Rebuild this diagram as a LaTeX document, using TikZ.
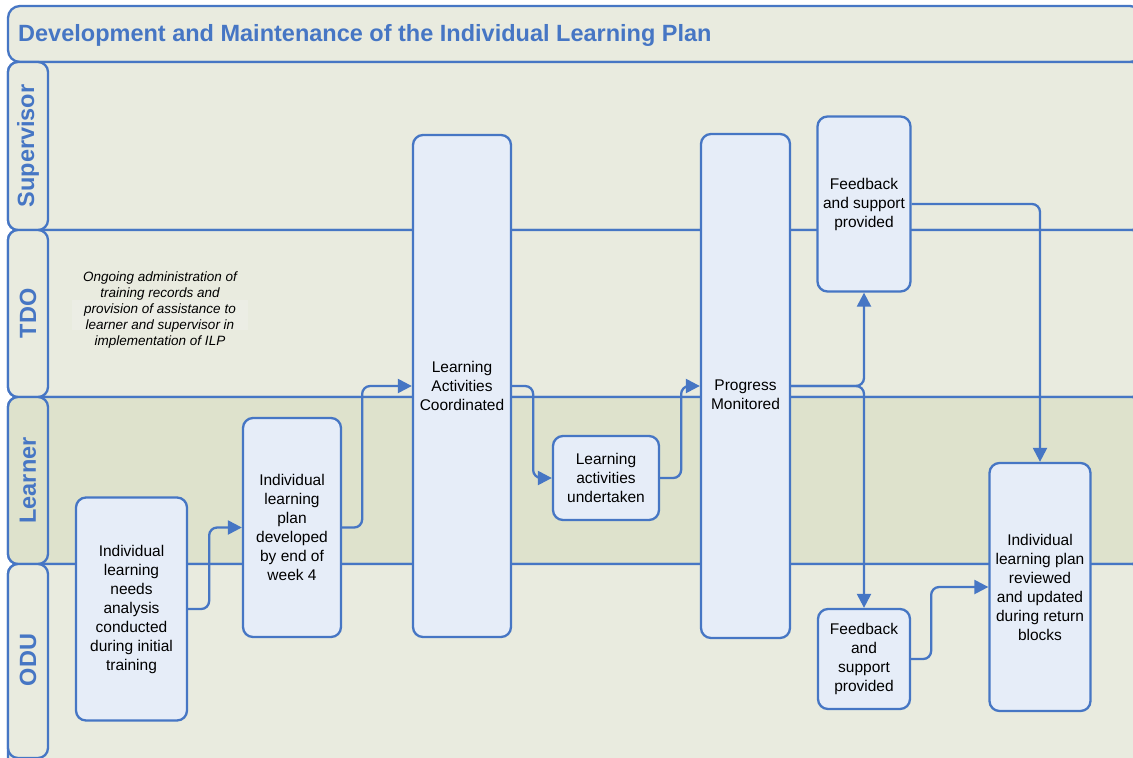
\documentclass[tikz,border=0pt]{standalone}
\usepackage{fontspec}
\setmainfont{Liberation Sans}
\usetikzlibrary{arrows.meta}
\definecolor{lineblue}{RGB}{70,118,196}
\definecolor{lanebg}{RGB}{233,235,223}
\definecolor{learnerbg}{RGB}{222,226,204}
\definecolor{boxfill}{RGB}{230,237,248}
\definecolor{notebg}{RGB}{236,237,229}
\tikzset{
  lanerect/.style={draw=lineblue, line width=2.3pt, rounded corners=10pt},
  tabrect/.style={draw=lineblue, line width=2.3pt, rounded corners=10pt},
  lanelabel/.style={rotate=90, text=lineblue, font=\bfseries\fontsize{23.5}{28}\selectfont, inner sep=0pt},
  stepbox/.style={draw=lineblue, line width=2.3pt, rounded corners=10pt, fill=boxfill,
    align=center, inner sep=0pt, font=\fontsize{15.5}{19}\selectfont},
  boxtext/.style={align=center, inner sep=0pt, font=\fontsize{15.5}{19}\selectfont},
  conn/.style={draw=lineblue, line width=2.3pt, rounded corners=8pt,
    -{Triangle[length=14pt,width=14pt]}},
}
\begin{document}
\begin{tikzpicture}[x=1pt,y=-1pt]
\useasboundingbox (0,0) rectangle (1133,758);
\clip (0,0) rectangle (1133,758);
\fill[white] (0,0) rectangle (1133,758);
% title
\draw[lanerect, rounded corners=12pt, fill=lanebg] (8,6) rectangle (1142,62);
\node[anchor=base west, text=lineblue, font=\bfseries\fontsize{23.5}{28}\selectfont, inner sep=0pt] (title) at (18,41) {Development and Maintenance of the Individual Learning Plan};
% lanes
\draw[lanerect, fill=lanebg] (8,62) rectangle (1142,230);
\draw[lanerect, fill=lanebg] (8,230) rectangle (1142,397);
\draw[lanerect, fill=learnerbg] (8,397) rectangle (1142,564);
\draw[lanerect, fill=lanebg] (8,564) rectangle (1142,770);
% tabs
\draw[tabrect, fill=lanebg] (8,62) rectangle (48,230);
\draw[tabrect, fill=lanebg] (8,230) rectangle (48,397);
\draw[tabrect, fill=learnerbg] (8,397) rectangle (48,564);
\draw[tabrect, fill=lanebg] (8,564) rectangle (48,758);
\node[lanelabel] (lsup) at (28,146) {Supervisor};
\node[lanelabel] (ltdo) at (28,313.5) {TDO};
\node[lanelabel] (llrn) at (28,480.5) {Learner};
\node[lanelabel] (lodu) at (28,660) {ODU};
% note
\fill[notebg] (72,300) rectangle (248,330);
\node[align=center, inner sep=0pt, font=\itshape\fontsize{13.5}{16}\selectfont] (note) at (160,310)
  {Ongoing administration of\\training records and\\provision of assistance to\\learner and supervisor in\\implementation of ILP};
% boxes
\node[stepbox, minimum width=111pt, minimum height=223pt] (n1) at (131.5,609)
  {Individual\\learning\\needs\\analysis\\conducted\\during initial\\training};
\node[stepbox, minimum width=98pt, minimum height=219pt] (n2) at (292,527.5)
  {Individual\\learning\\plan\\developed\\by end of\\week 4};
\node[stepbox, minimum width=98pt, minimum height=502pt] (n3) at (462,386)
  {Learning\\Activities\\Coordinated};
\node[stepbox, minimum width=106pt, minimum height=84pt] (n4) at (606,478)
  {Learning\\activities\\undertaken};
\node[stepbox, minimum width=89pt, minimum height=504pt] (n5) at (745.5,386) {};
\node[boxtext] (n5t) at (745.5,395) {Progress\\Monitored};
\node[stepbox, minimum width=93pt, minimum height=175pt] (n6) at (864,204)
  {Feedback\\and support\\provided};
\node[stepbox, minimum width=92pt, minimum height=100pt] (n7) at (864,659)
  {Feedback\\and\\support\\provided};
\node[stepbox, minimum width=101pt, minimum height=248pt] (n8) at (1040,587)
  {Individual\\learning plan\\reviewed\\and updated\\during return\\blocks};
% connectors
\draw[conn] (n1.east) -- ++(21,0) |- (n2.west);
\draw[conn] (n2.east) -- ++(20,0) |- (n3.west);
\draw[conn] (n3.east) -- ++(21,0) |- (n4.west);
\draw[conn] (n4.east) -- ++(21,0) |- (n5.west);
\draw[conn] (n5.east) -| (n6.south);
\draw[conn] (n5.east) -| (n7.north);
\draw[conn] (n6.east) -| (n8.north);
\draw[conn] (n7.east) -- ++(20,0) |- (n8.west);
\end{tikzpicture}
\end{document}
